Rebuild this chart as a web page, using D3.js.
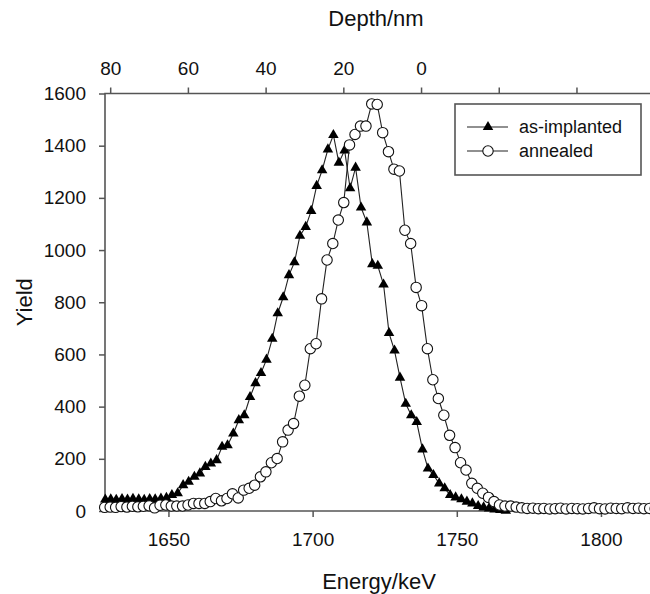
<!DOCTYPE html>
<html>
<head>
<meta charset="utf-8">
<script src="https://cdn.jsdelivr.net/npm/d3@7"></script>
<style>
  body { margin: 0; background: #fff; }
  text { font-family: "Liberation Sans", Arial, sans-serif; fill: #111; }
</style>
</head>
<body>
<div id="chart"></div>
<script>
//Data (energy in keV, yield in counts)
var implantedEnergy = [1628.1, 1630.0, 1631.9, 1633.9, 1635.8, 1637.7, 1639.7, 1641.6, 1643.5, 1645.4, 1647.4, 1649.3,
	1651.2, 1653.2, 1655.1, 1657.0, 1659.0, 1660.9, 1662.8, 1664.7, 1666.7, 1668.6, 1670.5, 1672.5, 1674.4, 1676.3,
	1678.3, 1680.2, 1682.1, 1684.0, 1686.0, 1687.9, 1689.8, 1691.8, 1693.7, 1695.6, 1697.6, 1699.5, 1701.4, 1703.3,
	1705.3, 1707.2, 1709.1, 1711.1, 1713.0, 1714.9, 1716.8, 1718.8, 1720.7, 1722.6, 1724.6, 1726.5, 1728.4, 1730.3,
	1732.3, 1734.2, 1736.1, 1738.1, 1740.0, 1741.9, 1743.9, 1745.8, 1747.7, 1749.6, 1751.6, 1753.5, 1755.4, 1757.4,
	1759.3, 1761.2, 1763.1, 1765.1, 1767.0];
var implantedYield = [44, 45, 43, 46, 44, 47, 45, 43, 46, 45, 48, 50,
	61, 68, 99, 112, 131, 144, 169, 182, 195, 246, 252, 297, 348, 367,
	437, 490, 529, 580, 660, 758, 819, 904, 953, 1055, 1089, 1150, 1246, 1306,
	1386, 1441, 1335, 1382, 1237, 1316, 1163, 1106, 946, 940, 868, 682, 615, 511,
	411, 367, 341, 236, 163, 138, 106, 87, 61, 52, 45, 36, 29, 19,
	14, 10, 6, 4, 1];

var annealedEnergy = [1627.9, 1629.8, 1631.7, 1633.6, 1635.6, 1637.5, 1639.4, 1641.3, 1643.3, 1645.2,
	1647.1, 1649.1, 1651.0, 1652.9, 1654.9, 1656.8, 1658.7, 1660.6, 1662.6, 1664.5,
	1666.4, 1668.4, 1670.3, 1672.2, 1674.2, 1676.1, 1678.0, 1679.9, 1681.9, 1683.8,
	1685.7, 1687.7, 1689.6, 1691.5, 1693.4, 1695.4, 1697.3, 1699.2, 1701.2, 1703.1,
	1705.0, 1707.0, 1708.9, 1710.8, 1712.8, 1714.7, 1716.6, 1718.5, 1720.5, 1722.4,
	1724.3, 1726.3, 1728.2, 1730.1, 1732.0, 1734.0, 1735.9, 1737.8, 1739.8, 1741.7,
	1743.6, 1745.5, 1747.5, 1749.4, 1751.3, 1753.2, 1755.2, 1757.1, 1759.0, 1761.0,
	1762.9, 1764.8, 1766.7, 1768.7, 1770.6, 1772.5, 1774.4, 1776.4, 1778.3, 1780.2,
	1782.2, 1784.1, 1786.0, 1787.9, 1789.9, 1791.8, 1793.7, 1795.7, 1797.6, 1799.5,
	1801.4, 1803.4, 1805.3, 1807.2, 1809.2, 1811.1, 1813.0, 1814.9, 1816.9, 1818.8];
var annealedYield = [14, 15, 14, 17, 15, 18, 16, 18, 20, 12,
	22, 23, 19, 19, 19, 23, 29, 29, 29, 36,
	48, 39, 48, 66, 50, 80, 87, 99, 131, 150,
	185, 201, 265, 310, 335, 440, 482, 622, 641, 813,
	962, 1025, 1115, 1182, 1403, 1443, 1475, 1475, 1560, 1558,
	1450, 1377, 1310, 1303, 1076, 1025, 857, 787, 622, 503,
	431, 367, 290, 243, 185, 157, 106, 87, 68, 52,
	36, 23, 19, 19, 15, 12, 10, 11, 9, 10,
	8, 9, 11, 8, 10, 9, 8, 10, 12, 9,
	8, 11, 10, 9, 12, 10, 11, 9, 10, 9];

var energyTicks = [1650, 1700, 1750, 1800];
var yieldTicks = [0, 200, 400, 600, 800, 1000, 1200, 1400, 1600];
var depthTicks = [80, 60, 40, 20, 0, -20, -40];
//energy that matches depth 80 nm and the surface (0 nm)
var depthEnergy80 = 1629.8, surfaceEnergy = 1737.6;

var seriesNames = ["as-implanted", "annealed"];

var width = 650, height = 594;
var plotLeft = 105, plotRight = 650, plotTop = 93.5, plotBottom = 511;

var svg = d3.select("#chart").append("svg")
	.attr("width", width)
	.attr("height", height);

var x = d3.scaleLinear().domain([1628, 1817]).range([plotLeft, plotRight]);
var y = d3.scaleLinear().domain([0, 1600]).range([plotBottom, plotTop]);
var depth = d3.scaleLinear().domain([80, 0]).range([x(depthEnergy80), x(surfaceEnergy)]);

var axisColor = "#555";

//Axes
var xAxis = svg.append("g")
	.attr("transform", "translate(0," + plotBottom + ")")
	.call(d3.axisBottom(x).tickValues(energyTicks).tickSize(6).tickPadding(16).tickFormat(d3.format("d")));
var yAxis = svg.append("g")
	.attr("transform", "translate(" + plotLeft + ",0)")
	.call(d3.axisLeft(y).tickValues(yieldTicks).tickSize(6).tickPadding(13).tickFormat(d3.format("d")));
var topAxis = svg.append("g")
	.attr("transform", "translate(0," + plotTop + ")")
	.call(d3.axisTop(depth).tickValues(depthTicks).tickSize(6).tickPadding(13)
		.tickFormat(function (d) { return d >= 0 ? d : ""; }));

[xAxis, yAxis, topAxis].forEach(function (a) {
	a.select(".domain").remove();
	a.selectAll(".tick line").attr("stroke", axisColor).attr("stroke-width", 1.5);
	a.selectAll(".tick text")
		.style("font-family", "'Liberation Sans', Arial, sans-serif")
		.style("font-size", "19px")
		.attr("fill", "#111");
});

//Frame lines (left, top, bottom)
svg.append("path")
	.attr("d", "M" + plotRight + "," + plotTop + "H" + plotLeft + "V" + plotBottom + "H" + plotRight)
	.attr("fill", "none")
	.attr("stroke", axisColor)
	.attr("stroke-width", 1.6);

//Axis titles
svg.append("text")
	.attr("x", 379)
	.attr("y", 581)
	.attr("text-anchor", "middle")
	.attr("dominant-baseline", "central")
	.style("font-size", "22px")
	.text("Energy/keV");
svg.append("text")
	.attr("x", 376)
	.attr("y", 18)
	.attr("text-anchor", "middle")
	.attr("dominant-baseline", "central")
	.style("font-size", "22px")
	.text("Depth/nm");
svg.append("text")
	.attr("transform", "translate(24," + ((plotTop + plotBottom) / 2) + ") rotate(-90)")
	.attr("text-anchor", "middle")
	.attr("dominant-baseline", "central")
	.style("font-size", "22px")
	.text("Yield");

//Series
var implanted = implantedEnergy.map(function (e, i) { return { e: e, v: implantedYield[i] }; });
var annealed = annealedEnergy.map(function (e, i) { return { e: e, v: annealedYield[i] }; });

var line = d3.line()
	.x(function (d) { return x(d.e); })
	.y(function (d) { return y(d.v); });

var triangle = d3.symbol().type(d3.symbolTriangle).size(48);

svg.append("path")
	.datum(implanted)
	.attr("d", line)
	.attr("fill", "none")
	.attr("stroke", "#222")
	.attr("stroke-width", 1.1);
svg.append("g").selectAll("path")
	.data(implanted)
	.enter().append("path")
	.attr("d", triangle)
	.attr("transform", function (d) { return "translate(" + x(d.e) + "," + y(d.v) + ")"; })
	.attr("fill", "#000");

svg.append("path")
	.datum(annealed)
	.attr("d", line)
	.attr("fill", "none")
	.attr("stroke", "#222")
	.attr("stroke-width", 1.1);
svg.append("g").selectAll("circle")
	.data(annealed)
	.enter().append("circle")
	.attr("cx", function (d) { return x(d.e); })
	.attr("cy", function (d) { return y(d.v); })
	.attr("r", 5.2)
	.attr("fill", "#fff")
	.attr("stroke", "#111")
	.attr("stroke-width", 1.1);

//Legend
var legend = svg.append("g");
legend.append("rect")
	.attr("x", 455).attr("y", 104)
	.attr("width", 186).attr("height", 71)
	.attr("fill", "#fff")
	.attr("stroke", axisColor)
	.attr("stroke-width", 1.6);

var rows = legend.selectAll(".row")
	.data(seriesNames)
	.enter().append("g")
	.attr("transform", function (d, i) { return "translate(0," + (127 + i * 24) + ")"; });
rows.append("line")
	.attr("x1", 467).attr("x2", 508)
	.attr("stroke", "#222")
	.attr("stroke-width", 1.1);
rows.each(function (d, i) {
	var r = d3.select(this);
	if (i === 0) {
		r.append("path").attr("d", triangle).attr("transform", "translate(488,0)").attr("fill", "#000");
	} else {
		r.append("circle").attr("cx", 488).attr("r", 5.2)
			.attr("fill", "#fff").attr("stroke", "#111").attr("stroke-width", 1.1);
	}
});
rows.append("text")
	.attr("x", 519)
	.attr("dominant-baseline", "central")
	.style("font-size", "18px")
	.text(function (d) { return d; });
</script>
</body>
</html>
